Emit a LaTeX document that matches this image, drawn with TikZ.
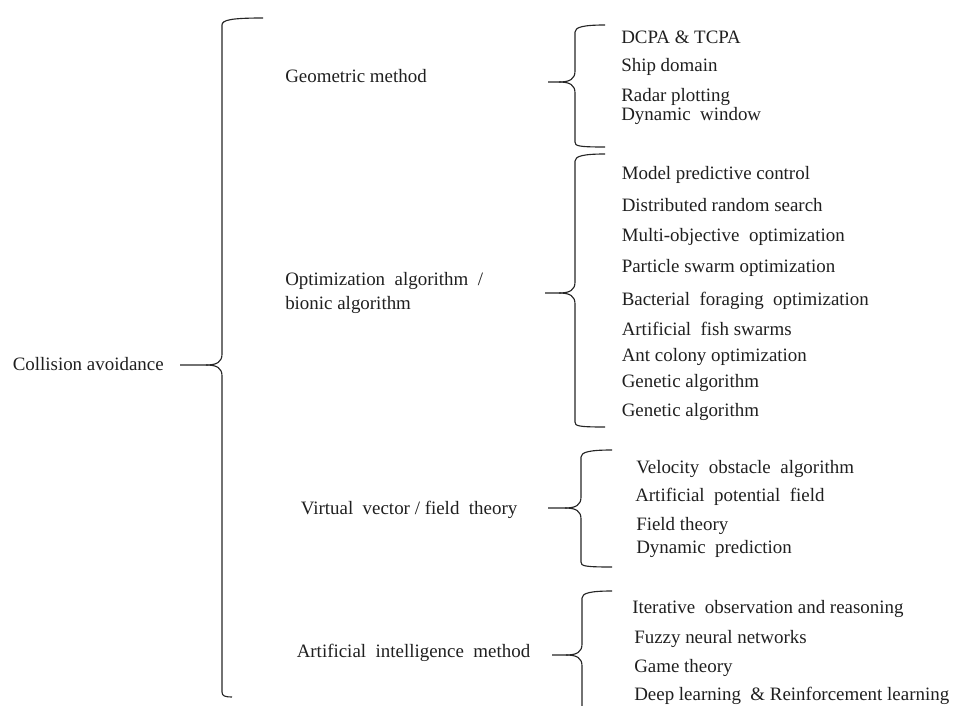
\documentclass[tikz,border=0pt]{standalone}
\usepackage{fontspec}
\setmainfont{Liberation Serif}
\begin{document}
\begin{tikzpicture}[x=0.75pt,y=-0.75pt,
  lbl/.style={anchor=base west,inner sep=0pt,font=\fontsize{14.2pt}{17pt}\selectfont,text=black!88},
  bracestyle/.style={draw=black!85,line width=0.85pt,line join=round}]
\useasboundingbox (0,0) rectangle (953,706);

% left brace: #1 spine x, #2 top y, #3 cusp y, #4 bottom y, #5 tip x,
% #6 upper arm end x, #7 lower arm end x
\newcommand{\drawbrace}[7]{%
  \draw[bracestyle] (#6,#2) .. controls ({#1+9},#2) and (#1,{#2+2}) .. (#1,{#2+7})
    -- (#1,{#3-11}) .. controls (#1,{#3-3}) and ({#1-5},#3) .. ({#1-16},#3) -- (#5,#3);
  \draw[bracestyle] ({#1-16},#3) .. controls ({#1-5},#3) and (#1,{#3+3}) .. (#1,{#3+11})
    -- (#1,{#4-5}) .. controls (#1,{#4-1}) and ({#1+3},#4) .. (#7,#4);
}

% root
\node[lbl] (root) at (12.5,370) {Collision avoidance};
\drawbrace{222}{18}{365}{697}{180}{263}{232}

% categories
\node[lbl] (geo) at (285,82.5) {Geometric method};
\node[lbl] (opt) at (285,285) {Optimization\ \ algorithm\ \ /};
\node[lbl] (opt2) at (285,309) {bionic algorithm};
\node[lbl] (vir) at (300.5,514) {Virtual\ \ vector / field\ \ theory};
\node[lbl] (ai) at (296.5,657) {Artificial\ \ intelligence\ \ method};

% geometric methods
\drawbrace{575}{25}{82}{147}{548}{605}{605}
\node[lbl] (g1) at (621,44) {DCPA \& TCPA};
\node[lbl] (g2) at (621,72) {Ship domain};
\node[lbl] (g3) at (621,102) {Radar plotting};
\node[lbl] (g4) at (621,121) {Dynamic\ \ window};

% optimization / bionic algorithms
\drawbrace{575}{154}{293}{427}{545}{605}{605}
\node[lbl] (o1) at (621.5,180) {Model predictive control};
\node[lbl] (o2) at (621.5,211.5) {Distributed random search};
\node[lbl] (o3) at (621.5,241.5) {Multi-objective\ \ optimization};
\node[lbl] (o4) at (621.5,272.5) {Particle swarm optimization};
\node[lbl] (o5) at (621.5,305) {Bacterial\ \ foraging\ \ optimization};
\node[lbl] (o6) at (621.5,335) {Artificial\ \ fish swarms};
\node[lbl] (o7) at (621.5,361) {Ant colony optimization};
\node[lbl] (o8) at (621.5,387.5) {Genetic algorithm};
\node[lbl] (o9) at (621.5,416) {Genetic algorithm};

% virtual vector / field theory
\drawbrace{581}{450}{508}{567}{548}{612}{612}
\node[lbl] (v1) at (636,473) {Velocity\ \ obstacle\ \ algorithm};
\node[lbl] (v2) at (635,501.5) {Artificial\ \ potential\ \ field};
\node[lbl] (v3) at (636,530) {Field theory};
\node[lbl] (v4) at (636,553.5) {Dynamic\ \ prediction};

% artificial intelligence methods
\drawbrace{582}{591}{655}{740}{552}{612}{612}
\node[lbl] (a1) at (632,613.5) {Iterative\ \ observation and reasoning};
\node[lbl] (a2) at (634,643.5) {Fuzzy neural networks};
\node[lbl] (a3) at (634,672) {Game theory};
\node[lbl] (a4) at (634,700) {Deep learning\ \ \& Reinforcement learning};
\end{tikzpicture}
\end{document}
